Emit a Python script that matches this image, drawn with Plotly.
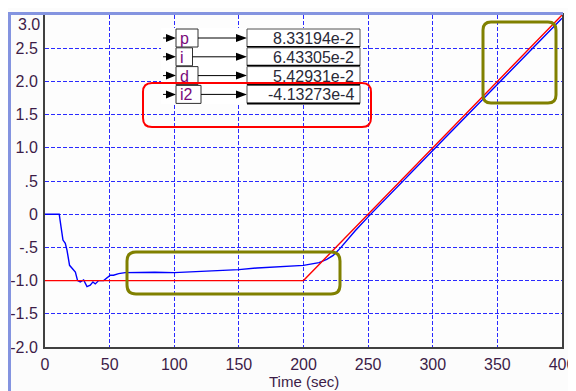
import plotly.graph_objects as go

# ---------------- data ----------------
time_pv = [0, 11, 12.4, 13.9, 15.7, 17, 19, 20.9, 23.5, 25.2, 27.3, 29.9, 32.5, 35, 37.1,
           38.9, 41.5, 45.4, 48, 50.5, 53, 57, 62, 70, 75, 85, 100, 112, 130, 150, 164,
           185, 200, 212, 218, 223, 229, 240, 250, 300, 350, 400]
pv = [0, 0, -0.19, -0.39, -0.44, -0.54, -0.77, -0.82, -0.87, -1.0, -1.02, -0.99, -1.09,
      -1.07, -1.02, -1.05, -1.0, -1.0, -0.955, -0.92, -0.92, -0.895, -0.88, -0.875, -0.87,
      -0.875, -0.88, -0.87, -0.845, -0.835, -0.81, -0.785, -0.77, -0.73, -0.68, -0.62,
      -0.5, -0.25, -0.04, 0.96, 1.96, 2.95]
time_sp = [0, 200, 400]
sp = [-1.0, -1.0, 3.0]

x_ticks = [0, 50, 100, 150, 200, 250, 300, 350, 400]
x_tick_labels = ["0", "50", "100", "150", "200", "250", "300", "350", "400"]
y_ticks = [-2.0, -1.5, -1.0, -0.5, 0, 0.5, 1.0, 1.5, 2.0, 2.5, 3.0]
y_tick_labels = ["-2.0", "-1.5", "-1.0", "-.5", "0", ".5", "1.0", "1.5", "2.0", "2.5", ""]
top_tick_label = "3.0"

gain_names = ["p", "i", "d", "i2"]
gain_values = ["8.33194e-2", "6.43305e-2", "5.42931e-2", "-4.13273e-4"]

x_title = "Time (sec)"

# ---------------- geometry (screen pixels; page body has an 8px margin) ----------------
OFF = 8
WIDTH, HEIGHT = 576 - OFF, 391 - OFF
PLOT_L, PLOT_R, PLOT_T, PLOT_B = 45, 562, 15, 347   # screen pixels
ML, MR = PLOT_L - OFF, WIDTH - (PLOT_R - OFF)
MT, MB = PLOT_T - OFF, HEIGHT - (PLOT_B - OFF)
PW = PLOT_R - PLOT_L
PH = PLOT_B - PLOT_T


def px(x):
    return (x - PLOT_L) / PW


def py(y):
    return (PLOT_B - y) / PH


def P(x, y):
    return f"{px(x):.5f},{py(y):.5f}"


def rrect(x0, y0, x1, y1, r):
    return (f"M {P(x0 + r, y0)} L {P(x1 - r, y0)} Q {P(x1, y0)} {P(x1, y0 + r)} "
            f"L {P(x1, y1 - r)} Q {P(x1, y1)} {P(x1 - r, y1)} L {P(x0 + r, y1)} "
            f"Q {P(x0, y1)} {P(x0, y1 - r)} L {P(x0, y0 + r)} Q {P(x0, y0)} {P(x0 + r, y0)} Z")


def tri(x0, x1, cy, h):
    return f"M {P(x0, cy - h)} L {P(x1, cy)} L {P(x0, cy + h)} Z"


FONT = "Liberation Sans, Arial, sans-serif"
FS = 16
TICK_COLOR = "#3c1c48"

fig = go.Figure()
fig.add_trace(go.Scatter(x=time_pv, y=pv, mode="lines",
                         line=dict(color="#0000ff", width=1.4), hoverinfo="skip"))
fig.add_trace(go.Scatter(x=time_sp, y=sp, mode="lines",
                         line=dict(color="#ff0000", width=1.4), hoverinfo="skip"))

shapes = []
annotations = []


def add_rect(x0, y0, x1, y1, **kw):
    shapes.append(dict(type="rect", xref="paper", yref="paper",
                       x0=px(x0), x1=px(x1), y0=py(y1), y1=py(y0), **kw))


def add_line(x0, y0, x1, y1, color, width):
    shapes.append(dict(type="line", xref="paper", yref="paper",
                       x0=px(x0), x1=px(x1), y0=py(y0), y1=py(y1),
                       line=dict(color=color, width=width)))


def add_path(path, **kw):
    shapes.append(dict(type="path", xref="paper", yref="paper", path=path, **kw))


# outer frame bars
add_rect(8, 12, 11, 391, fillcolor="#8494e0", line=dict(width=0))
add_rect(8, 12, 563, 15, fillcolor="#8494e0", line=dict(width=0))
add_line(571, 12, 571, 391, "#e4e4f2", 1)

# block diagram background
add_rect(161, 28, 361, 104, fillcolor="white", line=dict(width=0))

left_box_right = [198, 192.5, 198, 201]
for k, (name, val) in enumerate(zip(gain_names, gain_values)):
    top = 29 + 18.8 * k
    bot = top + 18
    cy = (top + bot) / 2
    add_line(163, cy, 167, cy, "#000000", 1)
    add_path(tri(166, 176, cy, 4), fillcolor="#000000", line=dict(width=0))
    add_rect(176, top, left_box_right[k], bot, fillcolor="white",
             line=dict(color="#303030", width=1))
    add_line(left_box_right[k], cy, 237, cy, "#000000", 1)
    add_path(tri(236, 247, cy, 4), fillcolor="#000000", line=dict(width=0))
    add_rect(247, top, 360, bot, fillcolor="white", line=dict(color="#505050", width=1))
    add_line(247, bot, 360, bot, "#000000", 2)
    annotations.append(dict(xref="paper", yref="paper", x=px(178.5), y=py(cy + 0.5),
                            xanchor="left", yanchor="middle", text=name, showarrow=False,
                            borderpad=0, font=dict(family=FONT, size=FS, color="#7a0a7a")))
    annotations.append(dict(xref="paper", yref="paper", x=px(355), y=py(cy + 0.5),
                            xanchor="right", yanchor="middle", text=val, showarrow=False,
                            borderpad=0, font=dict(family=FONT, size=FS, color="#2a2a38")))

# highlight boxes
add_path(rrect(143, 83, 371, 127, 9), line=dict(color="#ff0000", width=2))
add_path(rrect(127, 252, 340, 294, 9), line=dict(color="#808000", width=3))
add_path(rrect(483, 22, 556, 103, 8), line=dict(color="#808000", width=3))

annotations.append(dict(xref="paper", yref="paper", x=px(41), y=py(24),
                        xanchor="right", yanchor="middle", text=top_tick_label,
                        showarrow=False, borderpad=0,
                        font=dict(family=FONT, size=FS, color=TICK_COLOR)))
annotations.append(dict(xref="paper", yref="paper", x=px(303.5), y=py(381),
                        xanchor="center", yanchor="middle", text=x_title,
                        showarrow=False, borderpad=0,
                        font=dict(family=FONT, size=15, color=TICK_COLOR)))

fig.update_layout(
    width=WIDTH, height=HEIGHT,
    margin=dict(l=ML, r=MR, t=MT, b=MB, pad=0, autoexpand=False),
    paper_bgcolor="#fcfcfc", plot_bgcolor="#fdfdfd",
    showlegend=False,
    shapes=shapes, annotations=annotations,
    font=dict(family=FONT, size=FS, color=TICK_COLOR),
)
fig.update_xaxes(range=[0, 400], tickvals=x_ticks, ticktext=x_tick_labels,
                 showgrid=True, gridcolor="#2a2aff", gridwidth=1, griddash="4px,2px",
                 zeroline=False, showline=True, linecolor="#404040", linewidth=2,
                 mirror=True, ticks="outside", ticklen=2, tickcolor="rgba(0,0,0,0)",
                 automargin=False,
                 tickfont=dict(family=FONT, size=FS, color=TICK_COLOR), fixedrange=True)
fig.update_yaxes(range=[-2, 3], tickvals=y_ticks, ticktext=y_tick_labels,
                 showgrid=True, gridcolor="#2a2aff", gridwidth=1, griddash="4px,2px",
                 zeroline=False, showline=True, linecolor="#404040", linewidth=2,
                 mirror=True, ticks="outside", ticklen=2, tickcolor="rgba(0,0,0,0)",
                 automargin=False,
                 tickfont=dict(family=FONT, size=FS, color=TICK_COLOR), fixedrange=True)

fig.write_html("out.html")
